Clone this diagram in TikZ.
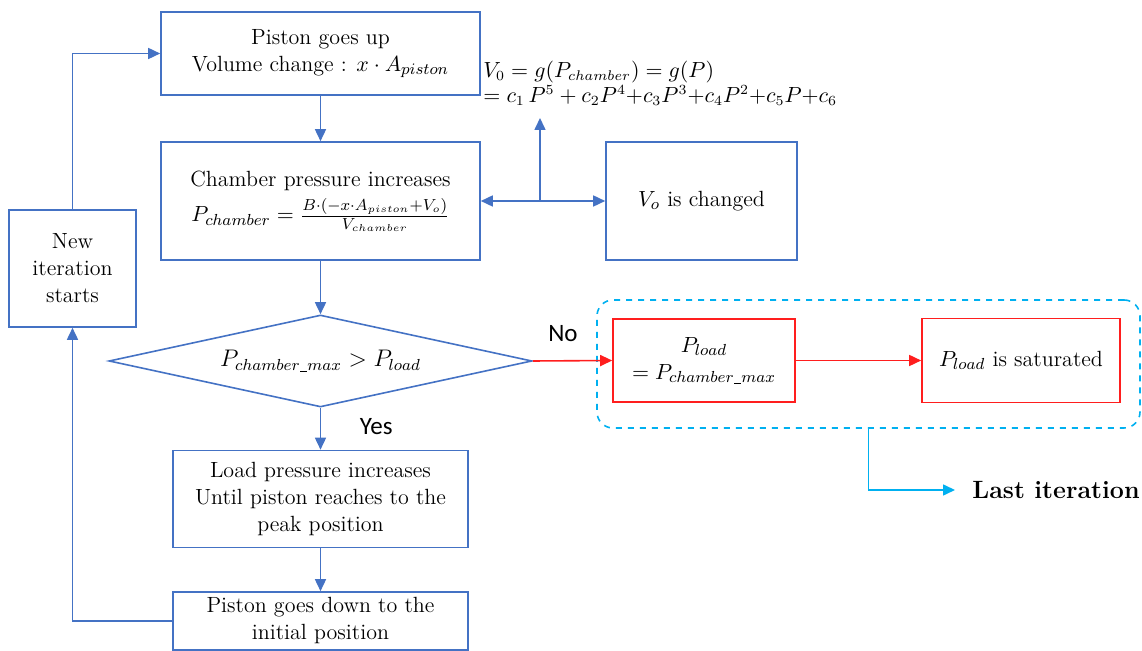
\documentclass[tikz,border=0pt]{standalone}
\usepackage{fontspec}
\newfontfamily\labelfont{Carlito}
\usetikzlibrary{arrows.meta,shapes.geometric}
\definecolor{flowblue}{RGB}{68,114,196}
\definecolor{flowred}{RGB}{255,30,30}
\definecolor{flowcyan}{RGB}{0,176,240}
\newcommand\usc{\kern0.3pt\rule[-0.4pt]{3.2pt}{0.35pt}\kern0.3pt}
\tikzset{
  >={Triangle[length=6pt,width=5.5pt]},
  stepbox/.style={draw=flowblue,line width=0.8pt,align=center,inner sep=2pt,
    font=\fontsize{11}{13.5}\selectfont},
  redbox/.style={stepbox,draw=flowred},
  decide/.style={draw=flowblue,line width=0.8pt,diamond,aspect=4.6,inner sep=0pt,
    minimum width=211.5pt,minimum height=46pt,font=\fontsize{11.5}{13.5}\selectfont},
  flow/.style={draw=flowblue,line width=0.8pt,->},
  redflow/.style={flow,draw=flowred},
  tag/.style={font=\labelfont\fontsize{12.5}{14}\selectfont}
}
\begin{document}
\begin{tikzpicture}[x=0.5pt,y=-0.5pt]
  \useasboundingbox (0,0) rectangle (1142,651);
  % main column
  \node (up) [stepbox,minimum width=159.5pt,minimum height=41.5pt] at (320.5,53.5)
    {Piston goes up\\Volume change : $x\cdot A_{piston}$};
  \node (chamber) [stepbox,minimum width=159.5pt,minimum height=59pt] at (320.5,201)
    {Chamber pressure increases\\[4pt]$P_{chamber}=\frac{B\cdot(-x\cdot A_{piston}+V_o)}{V_{chamber}}$};
  \node (check) [decide] at (320.5,361) {$P_{chamber\usc max}>P_{load}$};
  \node (load) [stepbox,minimum width=147.5pt,minimum height=48.5pt] at (320.5,499)
    {Load pressure increases\\Until piston reaches to the\\peak position};
  \node (down) [stepbox,minimum width=147.5pt,minimum height=29pt] at (320.5,621)
    {Piston goes down to the\\initial position};
  \node (again) [stepbox,minimum width=63.5pt,minimum height=58.5pt] at (72.5,268.5)
    {New\\iteration\\starts};
  % volume side
  \node (vchg) [stepbox,minimum width=95.5pt,minimum height=59pt] at (701.5,201)
    {$V_o$ is changed};
  \node (gfun) [anchor=west,align=left,inner sep=0pt,font=\fontsize{10.5}{12.5}\selectfont] at (483,83)
    {$V_0=g(P_{chamber})=g(P)$\\$=c_1\,P^5+c_2P^4{+}c_3P^3{+}c_4P^2{+}c_5P{+}c_6$};
  \coordinate (split) at (540,201);
  \coordinate (gtip) at (540,118);
  % saturation branch
  \node (grp) [draw=flowcyan,dashed,line width=0.8pt,rounded corners=8pt,
    minimum width=271.5pt,minimum height=64pt] at (868.5,364) {};
  \node (peq) [redbox,minimum width=91pt,minimum height=41.5pt] at (704,360.5)
    {$P_{load}$\\$=P_{chamber\usc max}$};
  \node (sat) [redbox,minimum width=99pt,minimum height=42pt] at (1021,360.5)
    {$P_{load}$ is saturated};
  \node (last) [anchor=west,inner sep=0pt,font=\fontsize{12.5}{14}\selectfont\bfseries] at (972,490)
    {Last iteration};
  \begin{scope}
    \draw[flow] (up) -- (chamber);
    \draw[flow] (chamber) -- (check);
    \draw[flow] (check) -- node[tag,right=16pt,pos=0.45] {Yes} (load);
    \draw[flow] (load) -- (down);
    \draw[flow] (down.west) -| (again.south);
    \draw[flow] (again.north) |- (up.west);
    \draw[flow,<->] (chamber.east) -- (vchg.west);
    \draw[flow] (split) -- (gtip);
    \draw[redflow] (check.east) -- node[tag,above=6pt,pos=0.38,text=black] {No} (peq.west);
    \draw[redflow] (peq) -- (sat);
    \draw[flow,draw=flowcyan] (grp.south) |- ([xshift=-8.5pt]last.west);
  \end{scope}
\end{tikzpicture}
\end{document}
